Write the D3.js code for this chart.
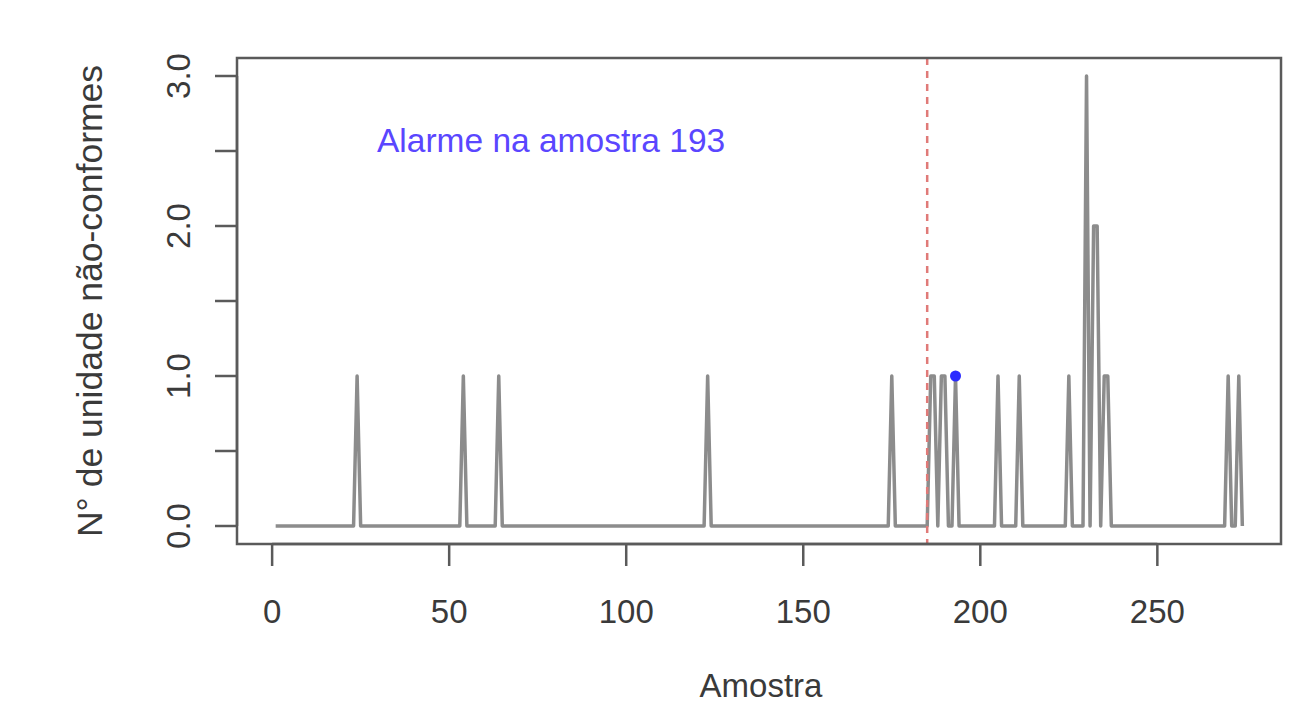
<!DOCTYPE html>
<html>
<head>
<meta charset="utf-8">
<script src="https://cdn.jsdelivr.net/npm/d3@7"></script>
<style>
  body { margin: 0; background: #fff; }
  svg { display: block; font-family: "Liberation Sans", Arial, sans-serif; }
</style>
</head>
<body>
<svg id="svg" width="1302" height="705"></svg>
<script>
// amostras 1..274, quase todas com zero não-conformes
var nSamples = 274
var defectSamples = [24, 54, 64, 123, 175, 186, 187, 189, 190, 193, 205, 211, 225, 230, 232, 233, 235, 236, 270, 273]
var defectCounts  = [ 1,  1,  1,   1,   1,   1,   1,   1,   1,   1,   1,   1,   1,   3,   2,   2,   1,   1,   1,   1]

var changePoint = 185   // linha vermelha tracejada
var alarmSample = 193   // ponto azul
var alarmText = 'Alarme na amostra 193'

var xTicks = [0, 50, 100, 150, 200, 250]
var yTicks = [0, 0.5, 1, 1.5, 2, 2.5, 3]
var yTickLabels = ['0.0', '', '1.0', '', '2.0', '', '3.0']

// série completa a partir das amostras com defeito
var series = []
for (var i = 1; i <= nSamples; i++) {
    var k = defectSamples.indexOf(i)
    series.push({ s: i, v: k >= 0 ? defectCounts[k] : 0 })
}

var svg = d3.select('#svg')
var pLeft = 237, pRight = 1281, pTop = 58, pBottom = 544

var pad = 0.04 * (nSamples - 1)
var x = d3.scaleLinear().domain([1 - pad, nSamples + pad]).range([pLeft, pRight])
var y = d3.scaleLinear().domain([-0.12, 3.12]).range([pBottom, pTop])

// linha da série
var line = d3.line().x(function(d) { return x(d.s) }).y(function(d) { return y(d.v) })
svg.append('path').datum(series)
    .attr('d', line)
    .attr('fill', 'none')
    .attr('stroke', '#8c8c8c')
    .attr('stroke-width', 3.5)
    .attr('stroke-linejoin', 'round')

// linha vertical tracejada
svg.append('line')
    .attr('x1', x(changePoint)).attr('x2', x(changePoint))
    .attr('y1', pTop).attr('y2', pBottom)
    .attr('stroke', '#e07a78')
    .attr('stroke-width', 2.5)
    .attr('stroke-dasharray', '7,6')

// ponto do alarme
svg.append('circle')
    .attr('cx', x(alarmSample))
    .attr('cy', y(series[alarmSample - 1].v))
    .attr('r', 5.5)
    .attr('fill', '#2a2aff')

// caixa
svg.append('rect')
    .attr('x', pLeft).attr('y', pTop)
    .attr('width', pRight - pLeft).attr('height', pBottom - pTop)
    .attr('fill', 'none').attr('stroke', '#5a5a5a').attr('stroke-width', 2.5)

// eixo x
var gx = svg.append('g')
gx.append('line')
    .attr('x1', x(xTicks[0])).attr('x2', x(xTicks[xTicks.length - 1]))
    .attr('y1', pBottom).attr('y2', pBottom)
    .attr('stroke', '#5a5a5a').attr('stroke-width', 2.5)
gx.selectAll('line.tick').data(xTicks).enter().append('line')
    .attr('class', 'tick')
    .attr('x1', function(d) { return x(d) }).attr('x2', function(d) { return x(d) })
    .attr('y1', pBottom).attr('y2', pBottom + 22)
    .attr('stroke', '#5a5a5a').attr('stroke-width', 2.5)
gx.selectAll('text').data(xTicks).enter().append('text')
    .attr('x', function(d) { return x(d) })
    .attr('y', 623)
    .attr('text-anchor', 'middle')
    .attr('font-size', 33)
    .attr('fill', '#3a3a3a')
    .text(function(d) { return d })

// eixo y
var gy = svg.append('g')
gy.append('line')
    .attr('x1', pLeft).attr('x2', pLeft)
    .attr('y1', y(0)).attr('y2', y(3))
    .attr('stroke', '#5a5a5a').attr('stroke-width', 2.5)
gy.selectAll('line.tick').data(yTicks).enter().append('line')
    .attr('class', 'tick')
    .attr('x1', pLeft - 22).attr('x2', pLeft)
    .attr('y1', function(d) { return y(d) }).attr('y2', function(d) { return y(d) })
    .attr('stroke', '#5a5a5a').attr('stroke-width', 2.5)
gy.selectAll('text').data(yTicks).enter().append('text')
    .attr('transform', function(d) { return 'translate(190,' + y(d) + ') rotate(-90)' })
    .attr('text-anchor', 'middle')
    .attr('font-size', 33)
    .attr('fill', '#3a3a3a')
    .text(function(d, i) { return yTickLabels[i] })

// títulos dos eixos
svg.append('text')
    .attr('x', (x(0) + x(275)) / 2 + 2).attr('y', 697)
    .attr('text-anchor', 'middle')
    .attr('font-size', 33).attr('fill', '#3a3a3a')
    .text('Amostra')

svg.append('text')
    .attr('transform', 'translate(102,' + ((pTop + pBottom) / 2) + ') rotate(-90)')
    .attr('text-anchor', 'middle')
    .attr('font-size', 35.5).attr('fill', '#3a3a3a')
    .text('N° de unidade não-conformes')

// texto do alarme
svg.append('text')
    .attr('x', 377).attr('y', 152)
    .attr('font-size', 33.5)
    .attr('fill', '#5a46ff')
    .text(alarmText)
</script>
</body>
</html>
